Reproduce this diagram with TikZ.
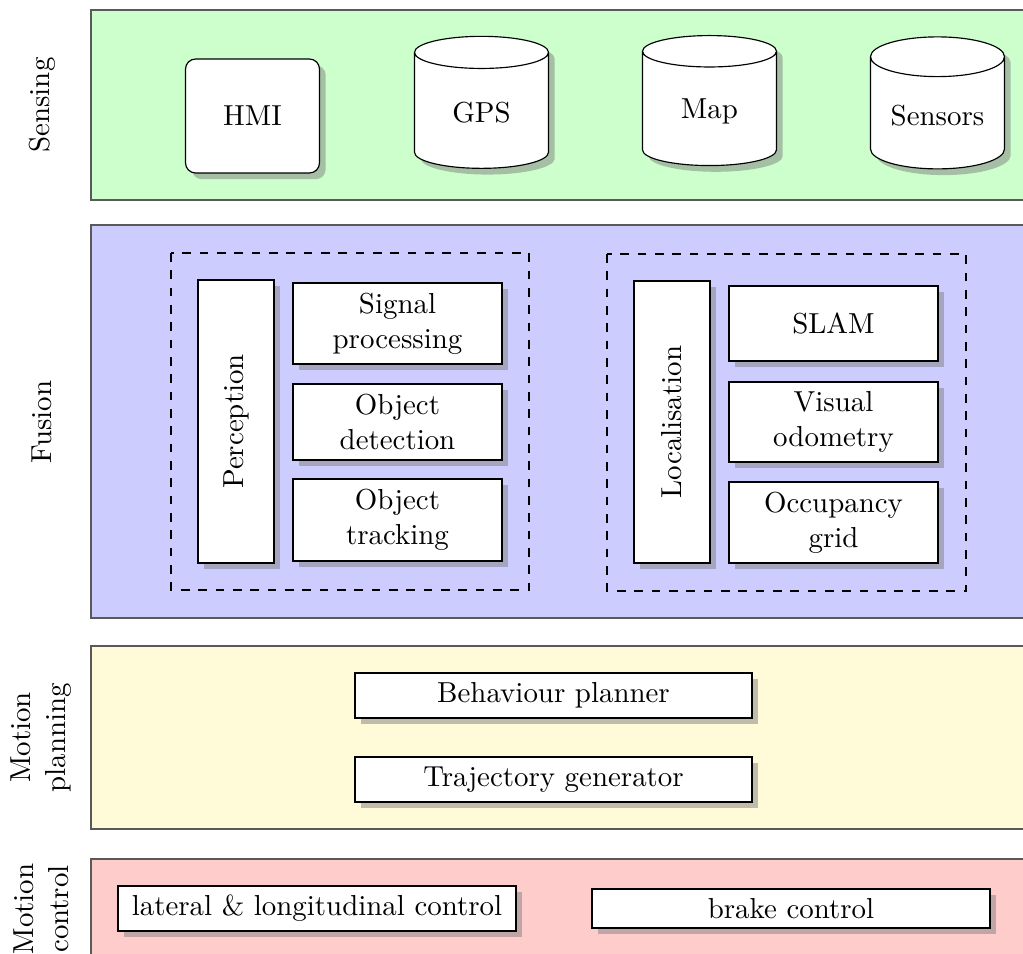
\documentclass[tikz,border=0pt]{standalone}
\usetikzlibrary{shapes.geometric,shadows}
\newcommand{\pxl}{0.346pt}
\definecolor{senscol}{RGB}{204,255,204}
\definecolor{fuscol}{RGB}{204,204,255}
\definecolor{plancol}{RGB}{255,250,215}
\definecolor{ctrlcol}{RGB}{255,204,204}
\tikzset{
  band/.style={draw=black!65, line width=0.5pt},
  box/.style={draw, fill=white, drop shadow, align=center, inner sep=1pt},
  sz/.style 2 args={minimum width=#1*\pxl, minimum height=#2*\pxl},
  can/.style={cylinder, shape border rotate=90, aspect=0.5, draw, fill=white, drop shadow, inner sep=1pt},
  grp/.style={draw, dashed, line width=0.6pt},
  lbl/.style={rotate=90, align=center, inner sep=0pt}
}
\begin{document}
\begin{tikzpicture}[x=0.346pt, y=-0.346pt]
\useasboundingbox (0,0) rectangle (1023,954);
\clip (0,0) rectangle (1023,954);
% bands
\path[band, fill=senscol] (91,10) rectangle (1040,200);
\path[band, fill=fuscol] (91,225) rectangle (1040,618);
\path[band, fill=plancol] (91,646) rectangle (1040,829);
\path[band, fill=ctrlcol] (91,859) rectangle (1040,965);
% band labels
\node[lbl] (lsens) at (42,105) {Sensing};
\node[lbl] (lfus) at (42,422) {Fusion};
\node[lbl] (lplan) at (41,737.5) {Motion\\planning};
\node[lbl] (lctrl) at (41,909) {Motion\\control};
% sensing
\node[box, rounded corners=3.5pt, sz={134}{114}] (hmi) at (252.5,116) {HMI};
\node[can, minimum width=134*\pxl, minimum height=132*\pxl] (gps) at (481.5,113) {GPS};
\node[can, minimum width=134*\pxl, minimum height=130*\pxl] (map) at (709.5,111) {Map};
\node[can, aspect=0.4, minimum width=134*\pxl, minimum height=132*\pxl] (sens) at (937.5,116) {Sensors};
% fusion groups
\draw[grp] (171,253) rectangle (529,590);
\draw[grp] (607,254) rectangle (966,591);
\node[box, rotate=90, sz={283}{76}] (perc) at (236,421.5) {Perception};
\node[box, sz={209}{81}] (sig) at (397.5,323.5) {Signal\\processing};
\node[box, sz={209}{76}] (odet) at (397.5,422) {Object\\detection};
\node[box, sz={209}{82}] (otrk) at (397.5,520) {Object\\tracking};
\node[box, rotate=90, sz={282}{76}] (loc) at (672,422) {Localisation};
\node[box, sz={209}{75}] (slam) at (833.5,323.5) {SLAM};
\node[box, sz={209}{80}] (vodo) at (833.5,422) {Visual\\odometry};
\node[box, sz={209}{81}] (occ) at (833.5,522.5) {Occupancy\\grid};
% planning
\node[box, sz={397}{45}] (beh) at (553.5,695.5) {Behaviour planner};
\node[box, sz={397}{45}] (traj) at (553.5,779.5) {Trajectory generator};
% control
\node[box, sz={398}{45}] (lat) at (317,908.5) {lateral \& longitudinal control};
\node[box, sz={398}{39}] (brk) at (791,908.5) {brake control};
\end{tikzpicture}
\end{document}
